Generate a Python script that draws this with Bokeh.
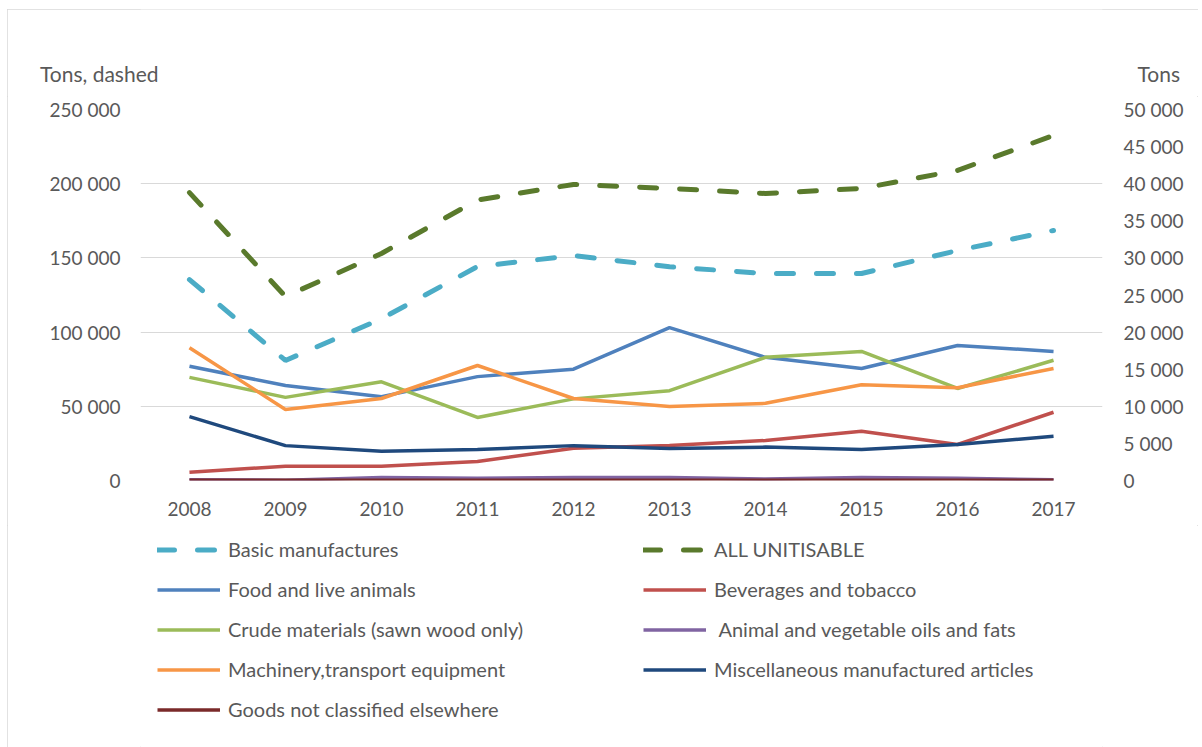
from bokeh.plotting import figure
from bokeh.layouts import column
from bokeh.models import (Range1d, LinearAxis, FixedTicker, CustomJSTickFormatter,
                          Legend, LegendItem)
from bokeh.embed import file_html
from bokeh.resources import INLINE

years = [2008, 2009, 2010, 2011, 2012, 2013, 2014, 2015, 2016, 2017]

# Left axis (dashed series)
basic_manufactures = [135400, 80900, 109000, 144200, 151600, 144000, 139500, 139500, 155000, 168500]
all_unitisable = [194000, 124000, 153000, 189000, 199500, 196800, 193400, 196800, 209000, 232500]

# Right axis (solid series)
food_live_animals = [15400, 12800, 11300, 14000, 15000, 20600, 16600, 15100, 18200, 17400]
beverages_tobacco = [1120, 1930, 1930, 2560, 4350, 4720, 5390, 6640, 4850, 9200]
crude_materials = [13900, 11200, 13300, 8500, 11000, 12100, 16600, 17400, 12400, 16200]
animal_veg_oils = [100, 50, 400, 300, 400, 400, 200, 400, 300, 100]
machinery = [17900, 9570, 11050, 15500, 11050, 9970, 10400, 12900, 12500, 15100]
misc_manufactured = [8600, 4700, 3950, 4180, 4700, 4300, 4500, 4180, 4850, 5970]
goods_not_classified = [50, 30, 50, 50, 50, 50, 50, 50, 50, 50]

left_ticks = [0, 50000, 100000, 150000, 200000, 250000]
right_ticks = list(range(0, 50001, 5000))

left_title = "Tons, dashed"
right_title = "Tons"

FONT = "Lato"
TXT = "#595959"
W = 1191

def style_axis(ax, size):
    ax.axis_line_color = None
    ax.major_tick_line_color = None
    ax.minor_tick_line_color = None
    ax.major_tick_out = 0
    ax.major_tick_in = 0
    ax.minor_tick_out = 0
    ax.major_label_text_font = FONT
    ax.major_label_text_font_size = size
    ax.major_label_text_color = TXT

# ---- top strip with axis headings (as axis labels of a blank strip) ----
top = figure(width=W, height=87, output_backend="svg", toolbar_location=None,
             x_range=Range1d(0, 1), y_range=Range1d(0, 87),
             x_axis_location=None, y_axis_location="left", min_border=0)
top.grid.visible = False
top.outline_line_color = None
top.yaxis.ticker = FixedTicker(ticks=[23])
top.yaxis.major_label_overrides = {23: left_title}
top_r = LinearAxis(ticker=FixedTicker(ticks=[23]), major_label_overrides={23: right_title})
top.add_layout(top_r, "right")
style_axis(top.yaxis[0], "21px")
style_axis(top_r, "21px")
top.yaxis[0].major_label_standoff = -18
top_r.major_label_standoff = 35

# ---- main chart ----
p = figure(width=W, height=429, output_backend="svg", toolbar_location=None,
           x_range=Range1d(2007.49, 2017.51), y_range=Range1d(0, 250000),
           min_border_left=133, min_border_right=96, min_border_top=13, min_border_bottom=45)
p.outline_line_color = None
p.extra_y_ranges = {"right": Range1d(0, 50000)}

fmt = CustomJSTickFormatter(code="return tick.toFixed(0).replace(/\\B(?=(\\d{3})+(?!\\d))/g, ' ');")

p.xaxis.ticker = FixedTicker(ticks=years)
p.yaxis.ticker = FixedTicker(ticks=left_ticks)
p.yaxis.formatter = fmt
raxis = LinearAxis(y_range_name="right", ticker=FixedTicker(ticks=right_ticks), formatter=fmt)
p.add_layout(raxis, "right")

for ax in [p.xaxis[0], p.yaxis[0], raxis]:
    style_axis(ax, "19px")
p.xaxis.major_label_standoff = 21
p.yaxis[0].major_label_standoff = 20
raxis.major_label_standoff = 21

p.xgrid.grid_line_color = None
p.ygrid.grid_line_color = "#d9d9d9"
p.ygrid.grid_line_width = 1

DASH = "17 23"
styles = {
    "basic": dict(line_color="#4bacc6", line_width=5, line_dash=DASH, line_cap="round"),
    "all": dict(line_color="#5a7a2c", line_width=5, line_dash=DASH, line_cap="round"),
    "food": dict(line_color="#4f81bd", line_width=3.5),
    "bev": dict(line_color="#c0504d", line_width=3.5),
    "crude": dict(line_color="#9bbb59", line_width=3.5),
    "oil": dict(line_color="#8064a2", line_width=3.5),
    "mach": dict(line_color="#f79646", line_width=3.5),
    "misc": dict(line_color="#1f497d", line_width=3.5),
    "goods": dict(line_color="#7a2a2a", line_width=3.5),
}

p.line(years, basic_manufactures, **styles["basic"])
p.line(years, all_unitisable, **styles["all"])
p.line(years, food_live_animals, y_range_name="right", **styles["food"])
p.line(years, beverages_tobacco, y_range_name="right", **styles["bev"])
p.line(years, crude_materials, y_range_name="right", **styles["crude"])
p.line(years, animal_veg_oils, y_range_name="right", **styles["oil"])
p.line(years, machinery, y_range_name="right", **styles["mach"])
p.line(years, misc_manufactured, y_range_name="right", **styles["misc"])
p.line(years, goods_not_classified, y_range_name="right", **styles["goods"])

# ---- legend strip ----
leg = figure(width=W, height=222, output_backend="svg", toolbar_location=None,
             x_range=Range1d(0, 1), y_range=Range1d(0, 1),
             x_axis_location=None, y_axis_location=None, min_border=0)
leg.grid.visible = False
leg.outline_line_color = None
# legend fills column-first: left column, then right column
order = [("basic", "Basic manufactures"),
         ("food", "Food and live animals"),
         ("crude", "Crude materials (sawn wood only)"),
         ("mach", "Machinery,transport equipment"),
         ("goods", "Goods not classified elsewhere"),
         ("all", "ALL UNITISABLE"),
         ("bev", "Beverages and tobacco"),
         ("oil", " Animal and vegetable oils and fats"),
         ("misc", "Miscellaneous manufactured articles")]
items = []
for key, lab in order:
    # legend-only renderer, its points lie outside the strip's visible range
    r = leg.line([5, 6], [5, 6], **styles[key])
    items.append(LegendItem(label=lab, renderers=[r]))
legend = Legend(items=items, ncols=2, location=(17, 25.5),
                border_line_color=None, background_fill_alpha=0,
                label_text_font=FONT, label_text_font_size="20px", label_text_color=TXT,
                glyph_width=63, glyph_height=25, label_height=25, label_width=400,
                label_standoff=8, spacing=15, padding=0, margin=0)
leg.add_layout(legend, "center")

layout = column(top, p, leg, spacing=0)
layout.margin = (9, 0, 0, 7)
layout.styles = {"outline": "1px solid #d9d9d9", "outline-offset": "-1px"}

open("out.html", "w").write(file_html(layout, INLINE))
